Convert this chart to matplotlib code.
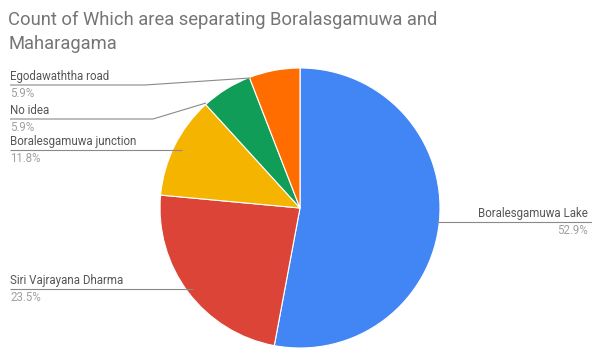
import matplotlib
matplotlib.use("Agg")
import matplotlib.pyplot as plt

plt.rcParams['font.family'] = ['Roboto', 'DejaVu Sans']

# answer counts, in drawing order (clockwise from 12 o'clock)
areas = ['Boralesgamuwa Lake', 'Siri Vajrayana Dharma', 'Boralesgamuwa junction',
         'No idea', 'Egodawaththa road']
counts = [9, 4, 2, 1, 1]
colors = ['#4285F4', '#DB4437', '#F4B400', '#0F9D58', '#FF6D01']

W, H = 592, 352
cx, cy, R = 300, 144, 140

fig = plt.figure(figsize=(W / 100, H / 100), dpi=100)
ax = fig.add_axes([0, 0, 1, 1])

wedges, _ = ax.pie(counts, colors=colors, startangle=90, counterclock=False,
                   center=(cx, cy), radius=R,
                   wedgeprops=dict(edgecolor='white', linewidth=0.8))
ax.set_xlim(0, W)
ax.set_ylim(0, H)
ax.set_aspect('equal')
ax.axis('off')

total = sum(counts)
pcts = [100 * c / total for c in counts]

# leader lines: text x, line y, then the path into the slice
layout = {
    'Boralesgamuwa Lake': (588, 130, 'right', [(436, 130)]),
    'Siri Vajrayana Dharma': (10, 63, 'left', [(193, 63)]),
    'Boralesgamuwa junction': (10, 202, 'left', [(182, 202)]),
    'No idea': (10, 233, 'left', [(153, 233), (206, 249)]),
    'Egodawaththa road': (10, 267, 'left', [(145, 267), (250, 274)]),
}

for name, p in zip(areas, pcts):
    tx, ly, side, path = layout[name]
    if side == 'left':
        pts = [(tx, ly)] + path
    else:
        pts = path + [(W, ly)]
    xs, ys = zip(*pts)
    ax.plot(xs, ys, color='#8a8a8a', lw=0.8, solid_capstyle='butt')
    ha = 'left' if side == 'left' else 'right'
    ax.text(tx, ly + 2, name, ha=ha, va='bottom', fontsize=8.3, color='#555555')
    ax.text(tx, ly - 2, f'{p:.1f}%', ha=ha, va='top', fontsize=8.3, color='#a0a0a0')

fig.text(8 / W, 1 - 11 / H, 'Count of Which area separating Boralasgamuwa and\nMaharagama',
         ha='left', va='top', fontsize=13.2, color='#757575', linespacing=1.45)

fig.savefig('out.png', dpi=100, facecolor='white')
